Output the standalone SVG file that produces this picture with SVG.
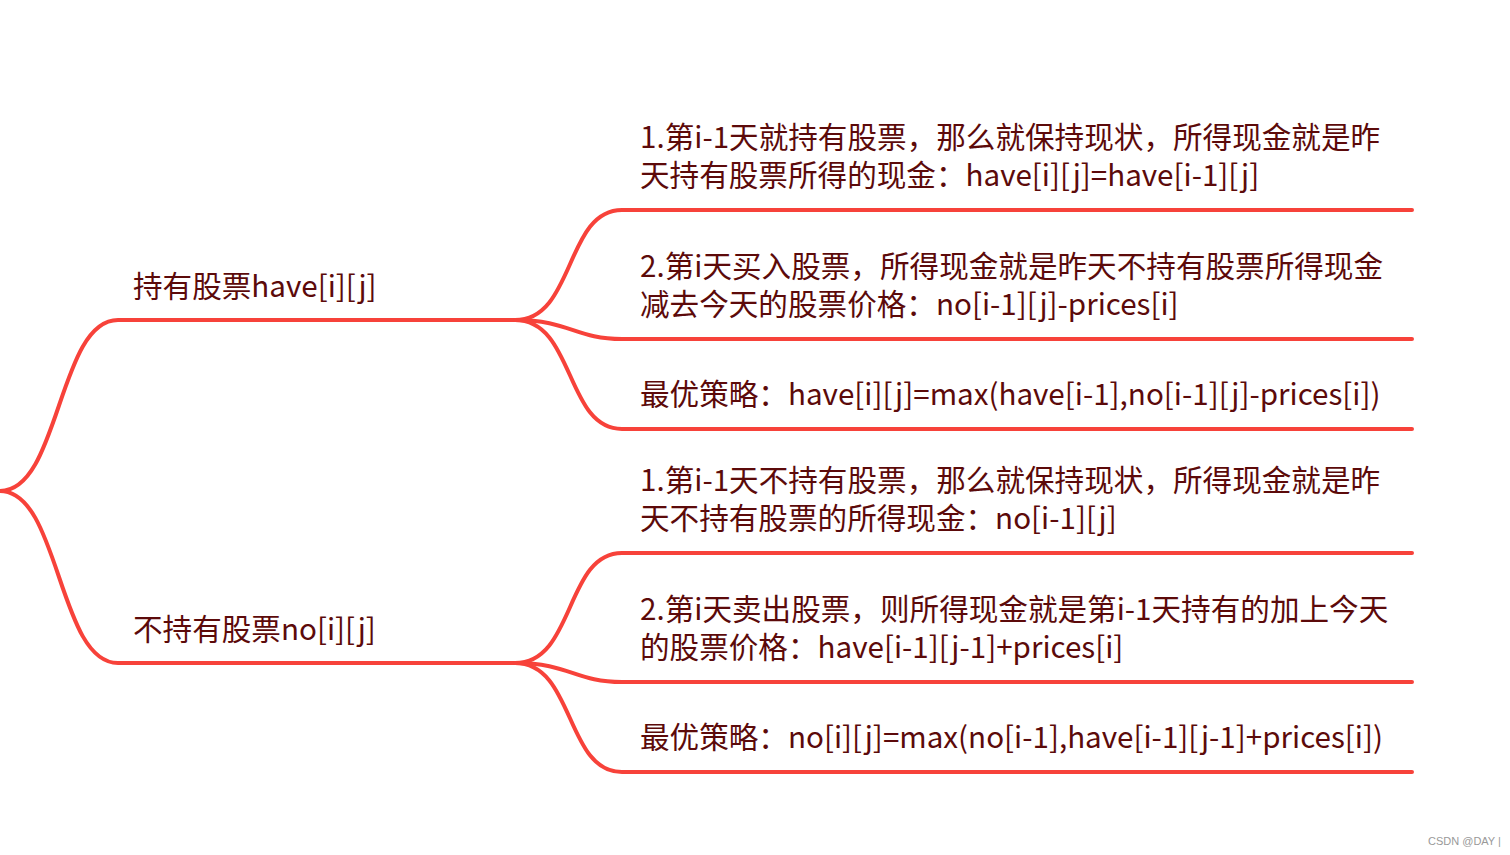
<svg xmlns="http://www.w3.org/2000/svg" width="1510" height="855" viewBox="0 0 1510 855">
<style>
.ln{fill:none;stroke:#f7423a;stroke-width:4;stroke-linecap:round}
.t{font-family:"Noto Sans CJK SC","Noto Sans",sans-serif;font-size:29.6px;fill:#5c0a0a}
.wm{font-family:"Liberation Sans",sans-serif;font-size:11px;fill:#999}
</style>
<rect width="1510" height="855" fill="#fff"/>
<g id="connectors">
<path class="ln" d="M0,491 C60,491 58,320 118,320 L520,320"/>
<path class="ln" d="M0,491 C60,491 58,663 118,663 L520,663"/>
<path class="ln" d="M515,320 C575,320 565,210 622,210 L1412,210"/>
<path class="ln" d="M515,320 C570,320 575,339 622,339 L1412,339"/>
<path class="ln" d="M515,320 C575,320 565,429 622,429 L1412,429"/>
<path class="ln" d="M515,663 C575,663 565,553 622,553 L1412,553"/>
<path class="ln" d="M515,663 C570,663 575,682 622,682 L1412,682"/>
<path class="ln" d="M515,663 C575,663 565,772 622,772 L1412,772"/>
</g>
<g id="n-have"><text class="t" x="133" y="297">持有股票have[i][j]</text></g>
<g id="n-no"><text class="t" x="133" y="640">不持有股票no[i][j]</text></g>
<g id="n-h1"><text class="t" x="640" y="148">1.第i-1天就持有股票，那么就保持现状，所得现金就是昨</text><text class="t" x="640" y="186">天持有股票所得的现金：have[i][j]=have[i-1][j]</text></g>
<g id="n-h2"><text class="t" x="640" y="277">2.第i天买入股票，所得现金就是昨天不持有股票所得现金</text><text class="t" x="640" y="315">减去今天的股票价格：no[i-1][j]-prices[i]</text></g>
<g id="n-h3"><text class="t" x="640" y="405">最优策略：have[i][j]=max(have[i-1],no[i-1][j]-prices[i])</text></g>
<g id="n-n1"><text class="t" x="640" y="491">1.第i-1天不持有股票，那么就保持现状，所得现金就是昨</text><text class="t" x="640" y="529">天不持有股票的所得现金：no[i-1][j]</text></g>
<g id="n-n2"><text class="t" x="640" y="620">2.第i天卖出股票，则所得现金就是第i-1天持有的加上今天</text><text class="t" x="640" y="658">的股票价格：have[i-1][j-1]+prices[i]</text></g>
<g id="n-n3"><text class="t" x="640" y="748">最优策略：no[i][j]=max(no[i-1],have[i-1][j-1]+prices[i])</text></g>
<text class="wm" x="1428" y="845">CSDN @DAY  |</text>
</svg>
